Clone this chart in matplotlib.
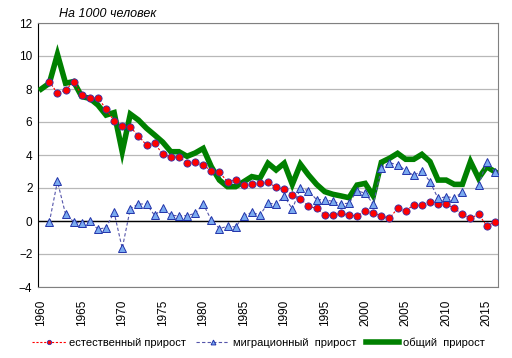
import matplotlib
matplotlib.use("Agg")
import matplotlib.pyplot as plt
import numpy as np

plt.rcParams['font.family'] = ['Liberation Sans', 'DejaVu Sans']

# данные (на 1000 человек)
years = list(range(1960, 2017))
natural = [np.nan, 8.45, 7.74, 7.94, 8.44, 7.64, 7.43, 7.47, 6.79, 6.06,
           5.78, 5.68, 5.17, 4.59, 4.71, 4.05, 3.88, 3.88, 3.52, 3.55,
           3.38, 3.05, 2.96, 2.38, 2.48, 2.16, 2.26, 2.28, 2.34, 2.04,
           1.92, 1.58, 1.35, 0.89, 0.77, 0.36, 0.36, 0.46, 0.36, 0.30,
           0.60, 0.48, 0.30, 0.16, 0.77, 0.62, 0.97, 0.97, 1.13, 1.03,
           1.03, 0.77, 0.41, 0.16, 0.41, -0.28, -0.08]
migration = [np.nan, -0.08, 2.40, 0.42, -0.04, -0.14, -0.02, -0.50, -0.40, 0.52,
             -1.66, 0.75, 1.03, 1.03, 0.34, 0.76, 0.36, 0.30, 0.33, 0.46,
             1.03, 0.06, -0.46, -0.32, -0.36, 0.30, 0.53, 0.36, 1.08, 1.02,
             1.52, 0.72, 1.98, 1.84, 1.29, 1.29, 1.19, 1.05, 1.07, 1.84,
             1.68, 1.02, 3.19, 3.53, 3.41, 3.07, 2.76, 3.05, 2.38, 1.37,
             1.47, 1.41, 1.74, np.nan, 2.18, 3.56, 2.99]
total = [8.0, 8.35, 10.1, 8.35, 8.45, 7.54, 7.43, 7.03, 6.42, 6.57,
         4.2, 6.48, 6.12, 5.62, 5.21, 4.78, 4.2, 4.2, 3.92, 4.12,
         4.4, 3.29, 2.48, 2.08, 2.08, 2.38, 2.69, 2.59, 3.5, 3.09,
         3.5, 2.22, 3.44, 2.79, 2.22, 1.78, 1.62, 1.52, 1.41, 2.18,
         2.28, 1.52, 3.56, 3.8, 4.1, 3.74, 3.74, 4.04, 3.6, 2.48,
         2.48, 2.22, 2.22, 3.6, 2.59, 3.29, 2.99]
xticks = list(range(1960, 2016, 5))

fig = plt.figure(figsize=(5.12, 3.58), dpi=100)
ax = fig.add_axes([38/512, 1-287/358, 460/512, 264/358])

ax.plot(years, total, color='#008000', lw=4.0, zorder=3,
        solid_joinstyle='miter', label='общий  прирост')
ax.plot(years, natural, color='red', lw=0.8, ls=(0, (2, 1.5)),
        marker='o', ms=5.2, mfc='#ff0000', mec='#3333aa', mew=0.6, zorder=4,
        label='естественный прирост')
ax.plot(years, migration, color='#5555aa', lw=0.8, ls=(0, (3, 2)),
        marker='^', ms=5.8, mfc='#7aaaf0', mec='#2233aa', mew=0.7, zorder=5,
        label='миграционный  прирост')

ax.set_xlim(1959.6, 2016.4)
ax.set_ylim(-4, 12)
ax.set_yticks(range(-4, 13, 2))
ax.set_xticks(xticks)
ax.set_xticklabels([str(y) for y in xticks], rotation=90)
ax.tick_params(length=0, labelsize=8.5, pad=4)
ax.tick_params(axis='x', pad=9)
ax.grid(axis='y', color='#b8b8b8', lw=0.9)
ax.set_axisbelow(True)
ax.axhline(0, color='black', lw=1.0, zorder=2)
for s in ['top', 'right', 'bottom']:
    ax.spines[s].set_color('#808080')
ax.spines['left'].set_color('black')

fig.text(59/512, 1-14/358, 'На 1000 человек', style='italic', fontsize=9,
         va='center', ha='left')

h, l = ax.get_legend_handles_labels()
order = [1, 2, 0]
fig.legend([h[i] for i in order], [l[i] for i in order], loc='center',
           bbox_to_anchor=(0.505, 1-343/358), ncol=3, frameon=False,
           fontsize=8, numpoints=1, handlelength=3.0, handletextpad=0.3,
           columnspacing=0.9, markerscale=0.6)

fig.savefig('out.png', dpi=100)
